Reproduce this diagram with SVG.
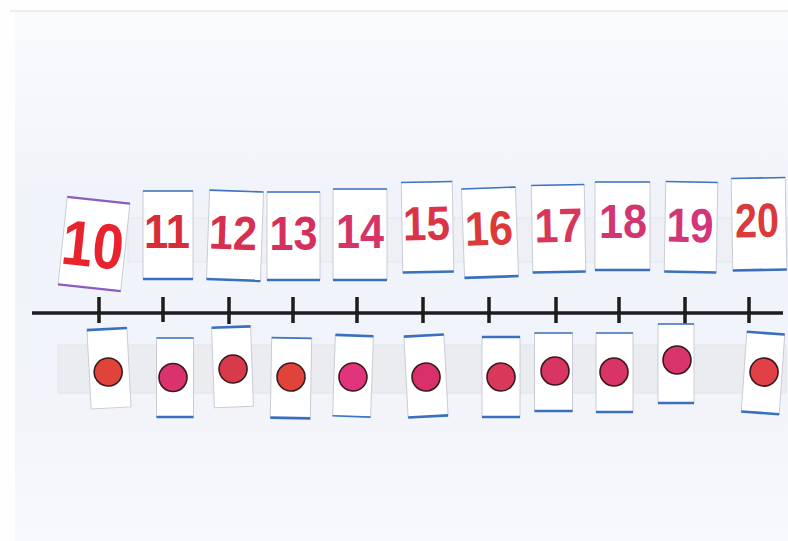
<svg xmlns="http://www.w3.org/2000/svg" width="788" height="541" viewBox="0 0 788 541">
  <defs>
    <linearGradient id="bg" x1="0" y1="0" x2="0" y2="1">
      <stop offset="0" stop-color="#fafbfd"/>
      <stop offset="0.35" stop-color="#f1f3fa"/>
      <stop offset="0.75" stop-color="#f2f4fa"/>
      <stop offset="1" stop-color="#f8f9fc"/>
    </linearGradient>
    <style>
      .card { fill: #ffffff; stroke: #c9ccd6; stroke-width: 1; }
      .edgeT { stroke: #3f74c0; stroke-width: 1.6; }
      .edgeB { stroke: #3a6fbf; stroke-width: 2.6; }
      .edgeP { stroke: #8a5cc4; stroke-width: 2.2; }
      .num { font-family: "Liberation Sans", Arial, sans-serif; font-weight: bold; font-size: 48px; text-anchor: middle; }
      .big { font-size: 64px; }
      .dot { stroke: #3a1a1a; stroke-width: 1.6; }
      .axis { stroke: #1c1c1c; stroke-width: 3.5; fill: none; }
    </style>
  </defs>

  <rect x="0" y="0" width="788" height="541" fill="#fefefe"/>
  <rect x="15" y="12" width="773" height="529" fill="url(#bg)"/>
  <line x1="10" y1="11" x2="788" y2="11" stroke="#dcdde2" stroke-width="1.2"/>

  <!-- paper strips -->
  <rect x="128" y="218" width="660" height="44" fill="#eef0f6" stroke="#e4e6ee" stroke-width="1"/>
  <rect x="58" y="345" width="728" height="48" fill="#ebecf0" stroke="#e2e4ea" stroke-width="1"/>

  <!-- top number cards -->
  <g id="n10" transform="translate(94,244) rotate(6)">
    <rect class="card" x="-31.5" y="-44" width="63" height="88"/>
    <line class="edgeP" x1="-31.5" y1="-44" x2="31.5" y2="-44"/>
    <line class="edgeP" x1="-31.5" y1="44" x2="31.5" y2="44"/>
    <text class="num big" x="-1" y="23" textLength="62" lengthAdjust="spacingAndGlyphs" fill="#e8232e">10</text>
  </g>
  <g id="n11" transform="translate(168,235)">
    <rect class="card" x="-25" y="-44" width="50" height="88"/>
    <line class="edgeT" x1="-25" y1="-44" x2="25" y2="-44"/>
    <line class="edgeB" x1="-25" y1="44" x2="25" y2="44"/>
    <text class="num" x="-1" y="13" textLength="46" lengthAdjust="spacingAndGlyphs" fill="#d82c38">11</text>
  </g>
  <g id="n12" transform="translate(235,235.5) rotate(2)">
    <rect class="card" x="-27" y="-44.5" width="54" height="89"/>
    <line class="edgeT" x1="-27" y1="-44.5" x2="27" y2="-44.5"/>
    <line class="edgeB" x1="-27" y1="44.5" x2="27" y2="44.5"/>
    <text class="num" x="-2" y="14" textLength="48" lengthAdjust="spacingAndGlyphs" fill="#d72f50">12</text>
  </g>
  <g id="n13" transform="translate(293.5,236)">
    <rect class="card" x="-26.5" y="-44" width="53" height="88"/>
    <line class="edgeT" x1="-26.5" y1="-44" x2="26.5" y2="-44"/>
    <line class="edgeB" x1="-26.5" y1="44" x2="26.5" y2="44"/>
    <text class="num" x="0" y="14" textLength="48" lengthAdjust="spacingAndGlyphs" fill="#d5305c">13</text>
  </g>
  <g id="n14" transform="translate(360,234.5)">
    <rect class="card" x="-27" y="-45.5" width="54" height="91"/>
    <line class="edgeT" x1="-27" y1="-45.5" x2="27" y2="-45.5"/>
    <line class="edgeB" x1="-27" y1="45.5" x2="27" y2="45.5"/>
    <text class="num" x="0" y="13.5" textLength="48" lengthAdjust="spacingAndGlyphs" fill="#d63466">14</text>
  </g>
  <g id="n15" transform="translate(427.5,227) rotate(-1)">
    <rect class="card" x="-25.5" y="-45" width="51" height="90"/>
    <line class="edgeT" x1="-25.5" y1="-45" x2="25.5" y2="-45"/>
    <line class="edgeB" x1="-25.5" y1="45" x2="25.5" y2="45"/>
    <text class="num" x="-1" y="13" textLength="47" lengthAdjust="spacingAndGlyphs" fill="#d93448">15</text>
  </g>
  <g id="n16" transform="translate(490,232.5) rotate(-2)">
    <rect class="card" x="-27" y="-44.5" width="54" height="89"/>
    <line class="edgeT" x1="-27" y1="-44.5" x2="27" y2="-44.5"/>
    <line class="edgeB" x1="-27" y1="44.5" x2="27" y2="44.5"/>
    <text class="num" x="-1" y="12.5" textLength="48" lengthAdjust="spacingAndGlyphs" fill="#dc3a3a">16</text>
  </g>
  <g id="n17" transform="translate(558.5,228.5) rotate(-1)">
    <rect class="card" x="-26.5" y="-43.5" width="53" height="87"/>
    <line class="edgeT" x1="-26.5" y1="-43.5" x2="26.5" y2="-43.5"/>
    <line class="edgeB" x1="-26.5" y1="43.5" x2="26.5" y2="43.5"/>
    <text class="num" x="0" y="13.5" textLength="48" lengthAdjust="spacingAndGlyphs" fill="#d8365a">17</text>
  </g>
  <g id="n18" transform="translate(622.5,226)">
    <rect class="card" x="-27.5" y="-44" width="55" height="88"/>
    <line class="edgeT" x1="-27.5" y1="-44" x2="27.5" y2="-44"/>
    <line class="edgeB" x1="-27.5" y1="44" x2="27.5" y2="44"/>
    <text class="num" x="0.5" y="12" textLength="48" lengthAdjust="spacingAndGlyphs" fill="#d23672">18</text>
  </g>
  <g id="n19" transform="translate(691,227) rotate(1)">
    <rect class="card" x="-26" y="-45" width="52" height="90"/>
    <line class="edgeT" x1="-26" y1="-45" x2="26" y2="-45"/>
    <line class="edgeB" x1="-26" y1="45" x2="26" y2="45"/>
    <text class="num" x="-1" y="15" textLength="47" lengthAdjust="spacingAndGlyphs" fill="#d2367a">19</text>
  </g>
  <g id="n20" transform="translate(759,224) rotate(-1)">
    <rect class="card" x="-27" y="-46" width="54" height="92"/>
    <line class="edgeT" x1="-27" y1="-46" x2="27" y2="-46"/>
    <line class="edgeB" x1="-27" y1="46" x2="27" y2="46"/>
    <text class="num" x="-2" y="13" textLength="44" lengthAdjust="spacingAndGlyphs" fill="#da3a3c">20</text>
  </g>

  <!-- number line with ticks -->
  <g id="connectors">
    <line class="axis" x1="32" y1="313" x2="783" y2="313"/>
    <path class="axis" d="M99 297V323M163 297V322M229 297V324M293 297V323M357 297V323M423 297V323M489 297V323M556 297V323M619 297V323M685 297V326M749 297V323"/>
  </g>

  <!-- bottom dot cards -->
  <g id="d10" transform="translate(109,368.5) rotate(-3)">
    <rect class="card" x="-20" y="-39.5" width="40" height="79"/>
    <line class="edgeB" x1="-20" y1="-39.5" x2="20" y2="-39.5"/>
    <circle class="dot" cx="-1" cy="3.5" r="14" fill="#e0433a"/>
  </g>
  <g id="d11" transform="translate(175,377.5)">
    <rect class="card" x="-18.5" y="-39.5" width="37" height="79"/>
    <line class="edgeT" x1="-18.5" y1="-39.5" x2="18.5" y2="-39.5"/>
    <line class="edgeB" x1="-18.5" y1="39.5" x2="18.5" y2="39.5"/>
    <circle class="dot" cx="-2" cy="0" r="14" fill="#d9326e"/>
  </g>
  <g id="d12" transform="translate(232.5,367) rotate(-2)">
    <rect class="card" x="-19.5" y="-40" width="39" height="80"/>
    <line class="edgeB" x1="-19.5" y1="-40" x2="19.5" y2="-40"/>
    <circle class="dot" cx="0.5" cy="2" r="14" fill="#d83a4c"/>
  </g>
  <g id="d13" transform="translate(291,378) rotate(1)">
    <rect class="card" x="-20" y="-40" width="40" height="80"/>
    <line class="edgeT" x1="-20" y1="-40" x2="20" y2="-40"/>
    <line class="edgeB" x1="-20" y1="40" x2="20" y2="40"/>
    <circle class="dot" cx="0" cy="-1" r="14" fill="#e0433a"/>
  </g>
  <g id="d14" transform="translate(353,376) rotate(2)">
    <rect class="card" x="-19" y="-40.5" width="38" height="81"/>
    <line class="edgeB" x1="-19" y1="-40.5" x2="19" y2="-40.5"/>
    <line class="edgeT" x1="-19" y1="40.5" x2="19" y2="40.5"/>
    <circle class="dot" cx="0" cy="1" r="14" fill="#e0347c"/>
  </g>
  <g id="d15" transform="translate(426,376) rotate(-3)">
    <rect class="card" x="-20" y="-40.5" width="40" height="81"/>
    <line class="edgeB" x1="-20" y1="-40.5" x2="20" y2="-40.5"/>
    <line class="edgeB" x1="-20" y1="40.5" x2="20" y2="40.5"/>
    <circle class="dot" cx="0" cy="1" r="14" fill="#d9306c"/>
  </g>
  <g id="d16" transform="translate(501,377)">
    <rect class="card" x="-19" y="-40" width="38" height="80"/>
    <line class="edgeB" x1="-19" y1="-40" x2="19" y2="-40"/>
    <line class="edgeB" x1="-19" y1="40" x2="19" y2="40"/>
    <circle class="dot" cx="0" cy="0" r="14" fill="#d8385a"/>
  </g>
  <g id="d17" transform="translate(553.5,372)">
    <rect class="card" x="-19" y="-39" width="38" height="78"/>
    <line class="edgeT" x1="-19" y1="-39" x2="19" y2="-39"/>
    <line class="edgeB" x1="-19" y1="39" x2="19" y2="39"/>
    <circle class="dot" cx="1.5" cy="-1" r="14" fill="#d83562"/>
  </g>
  <g id="d18" transform="translate(614.5,372.5)">
    <rect class="card" x="-18.5" y="-39.5" width="37" height="79"/>
    <line class="edgeT" x1="-18.5" y1="-39.5" x2="18.5" y2="-39.5"/>
    <line class="edgeB" x1="-18.5" y1="39.5" x2="18.5" y2="39.5"/>
    <circle class="dot" cx="-0.5" cy="-0.5" r="14" fill="#d83566"/>
  </g>
  <g id="d19" transform="translate(676,363.5)">
    <rect class="card" x="-18" y="-39.5" width="36" height="79"/>
    <line class="edgeT" x1="-18" y1="-39.5" x2="18" y2="-39.5"/>
    <line class="edgeB" x1="-18" y1="39.5" x2="18" y2="39.5"/>
    <circle class="dot" cx="1" cy="-3.5" r="14" fill="#d8356c"/>
  </g>
  <g id="d20" transform="translate(763,373) rotate(4)">
    <rect class="card" x="-19" y="-40" width="38" height="80"/>
    <line class="edgeB" x1="-19" y1="-40" x2="19" y2="-40"/>
    <line class="edgeB" x1="-19" y1="40" x2="19" y2="40"/>
    <circle class="dot" cx="1" cy="-1" r="14" fill="#e04046"/>
  </g>
</svg>
